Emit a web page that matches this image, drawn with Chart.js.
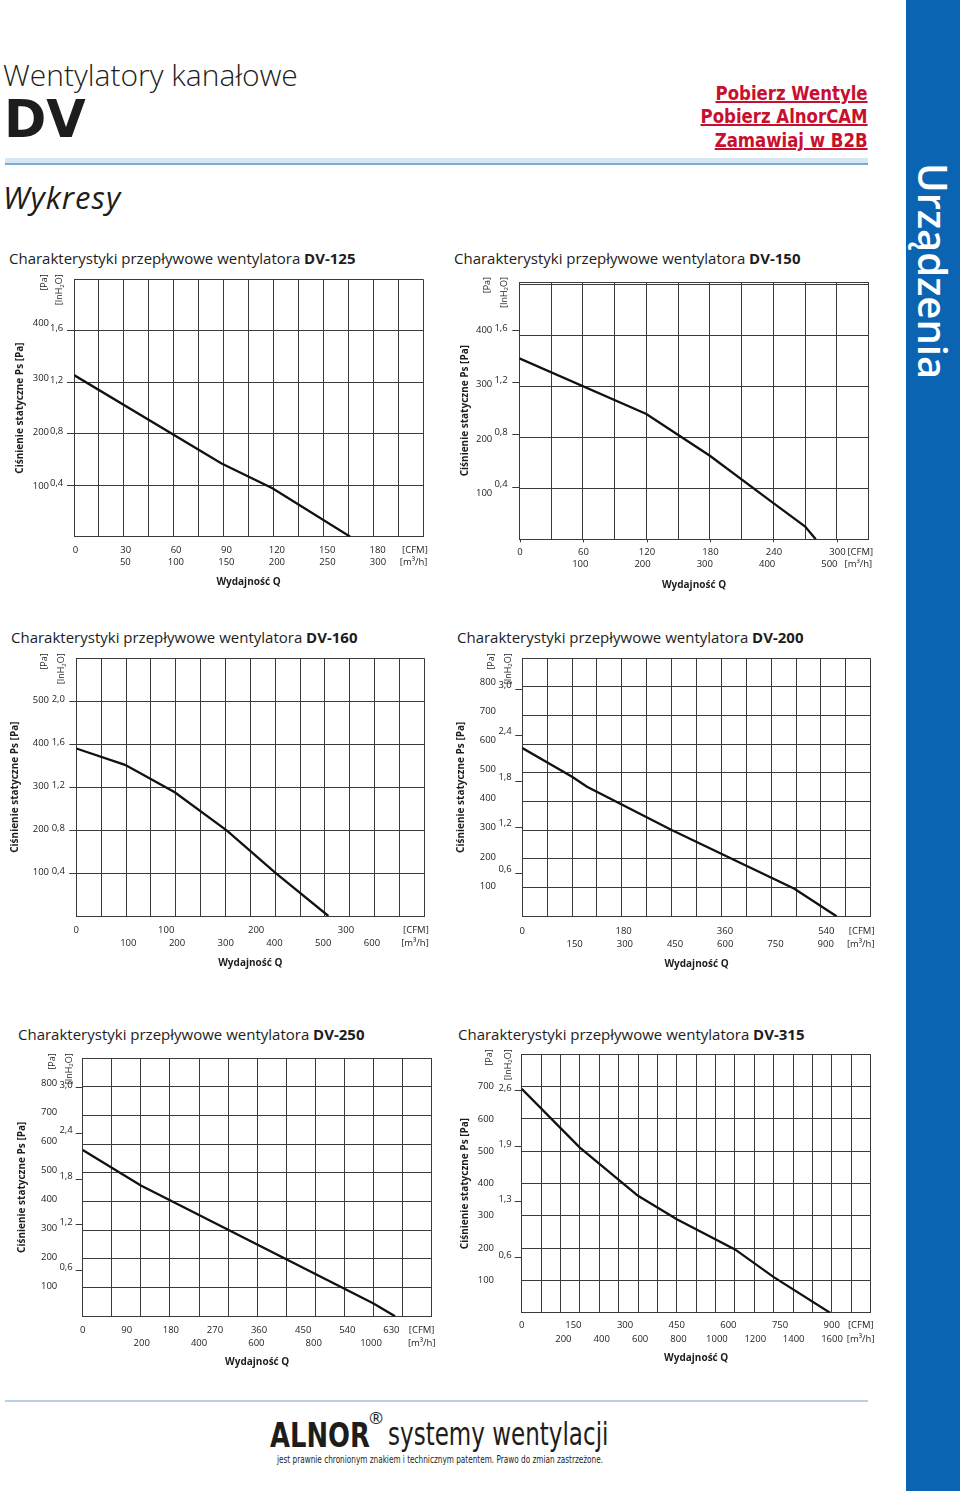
<!DOCTYPE html>
<html lang="pl">
<head>
<meta charset="utf-8">
<title>Wentylatory kanałowe DV – Wykresy</title>
<script src="https://cdn.jsdelivr.net/npm/chart.js@4.4.1/dist/chart.umd.min.js"></script>
<style>
  html, body { margin: 0; padding: 0; }
  body { width: 960px; height: 1491px; position: relative; overflow: hidden; background: #fff;
         font-family: 'Open Sans', 'Noto Sans', sans-serif; color: #1d1d1b; }
  .abs { position: absolute; white-space: nowrap; }
  canvas { position: absolute; }

  #side { left: 906px; top: 0; width: 54px; height: 1491px; background: #0a64b2; }
  #side span { position: absolute; left: 5px; top: 163px; writing-mode: vertical-rl; color: #fff;
               font-size: 40px; font-weight: 600; line-height: 44px; }

  #series { left: 3px; top: 57px; font-size: 30px; font-weight: 300; line-height: 36px; letter-spacing: 0; }
  #dv { left: 4px; top: 94px; font-family: 'DejaVu Sans', sans-serif; font-weight: 900; font-size: 51px; line-height: 51px; }
  #links { right: 92px; top: 82px; text-align: right; font-family: 'DejaVu Sans Condensed', 'DejaVu Sans', sans-serif;
           font-size: 20px; font-weight: 700; line-height: 23.3px; transform: scaleX(0.92); transform-origin: right top; }
  #links a { color: #c8102e; text-decoration: underline; display: block; }
  #band1 { left: 5px; width: 863px; top: 158px; height: 5px; background: #d5e6f4; border-bottom: 2px solid #7ea9d2; }
  #wyk { left: 3px; top: 179px; font-size: 31px; font-style: italic; line-height: 36px; letter-spacing: 1px; }

  .ttl { font-size: 15px; line-height: 18px; }
  .ttl b { font-weight: 700; }

  #band2 { left: 5px; width: 863px; top: 1400px; height: 2px; background: #b5d0e8; }
  #alnor { left: 270px; top: 1418px; font-family: 'DejaVu Sans', sans-serif; font-weight: 700; font-size: 34px;
           line-height: 34px; transform: scaleX(0.76); transform-origin: left top; }
  #reg { left: 369px; top: 1409px; font-size: 17px; line-height: 18px; }
  #syst { left: 388px; top: 1418px; font-family: 'DejaVu Sans Condensed', 'DejaVu Sans', sans-serif;
          font-size: 32px; line-height: 32px; transform: scaleX(0.8); transform-origin: left top; }
  #small { left: 277px; top: 1454px; font-family: 'DejaVu Sans Condensed', 'DejaVu Sans', sans-serif;
           font-size: 9.8px; line-height: 11px; transform: scaleX(0.83); transform-origin: left top; }
</style>
</head>
<body>

<div id="side" class="abs"><span>Urządzenia</span></div>

<div id="series" class="abs">Wentylatory kanałowe</div>
<div id="dv" class="abs">DV</div>
<div id="links" class="abs">
  <a>Pobierz Wentyle</a>
  <a>Pobierz AlnorCAM</a>
  <a>Zamawiaj w B2B</a>
</div>
<div id="band1" class="abs"></div>
<div id="wyk" class="abs">Wykresy</div>

<div class="abs ttl" style="left:9px;top:249px">Charakterystyki przepływowe wentylatora <b>DV-125</b></div>
<div class="abs ttl" style="left:454px;top:249px">Charakterystyki przepływowe wentylatora <b>DV-150</b></div>
<div class="abs ttl" style="left:11px;top:628px">Charakterystyki przepływowe wentylatora <b>DV-160</b></div>
<div class="abs ttl" style="left:457px;top:628px">Charakterystyki przepływowe wentylatora <b>DV-200</b></div>
<div class="abs ttl" style="left:18px;top:1025px">Charakterystyki przepływowe wentylatora <b>DV-250</b></div>
<div class="abs ttl" style="left:458px;top:1025px">Charakterystyki przepływowe wentylatora <b>DV-315</b></div>

<canvas id="c125"></canvas>
<canvas id="c150"></canvas>
<canvas id="c160"></canvas>
<canvas id="c200"></canvas>
<canvas id="c250"></canvas>
<canvas id="c315"></canvas>

<div id="band2" class="abs"></div>
<div id="alnor" class="abs">ALNOR</div>
<div id="reg" class="abs">®</div>
<div id="syst" class="abs">systemy wentylacji</div>
<div id="small" class="abs">jest prawnie chronionym znakiem i technicznym patentem. Prawo do zmian zastrzeżone.</div>

<script>
/* ── Curves: flow (m³/h, DV-150 in CFM) vs static pressure Ps (Pa) ── */
const dv125Flow = [0, 148, 199, 277];
const dv125Ps   = [314, 142, 94, 0];

const dv150Flow = [0, 120, 180, 240, 270, 280];          // CFM
const dv150Ps   = [355, 246, 164, 71, 25, 0];

const dv160Flow = [0, 98, 198, 303, 400, 507];
const dv160Ps   = [390, 352, 288, 199, 101, 0];

const dv200Flow = [0, 150, 195, 450, 820, 947];
const dv200Ps   = [587, 487, 452, 301, 96, 0];

const dv250Flow = [0, 200, 1000, 1074];
const dv250Ps   = [580, 456, 45, 0];

const dv315Flow = [0, 300, 600, 800, 1100, 1300, 1590];
const dv315Ps   = [693, 511, 362, 289, 196, 110, 0];

/* ── Tick labels ── */
const dv125Cfm = [0, 30, 60, 90, 120, 150, 180];
const dv125M3h = [50, 100, 150, 200, 250, 300];
const dv125Pa  = [100, 200, 300, 400];
const dv125In  = [0.4, 0.8, 1.2, 1.6];

const dv150Cfm = [0, 60, 120, 180, 240, 300];
const dv150M3h = [100, 200, 300, 400, 500];
const dv150Pa  = [100, 200, 300, 400];
const dv150In  = [0.4, 0.8, 1.2, 1.6];

const dv160Cfm = [0, 100, 200, 300];
const dv160M3h = [100, 200, 300, 400, 500, 600];
const dv160Pa  = [100, 200, 300, 400, 500];
const dv160In  = [0.4, 0.8, 1.2, 1.6, 2.0];

const dv200Cfm = [0, 180, 360, 540];
const dv200M3h = [150, 300, 450, 600, 750, 900];
const dv200Pa  = [100, 200, 300, 400, 500, 600, 700, 800];
const dv200In  = [0.6, 1.2, 1.8, 2.4, 3.0];

const dv250Cfm = [0, 90, 180, 270, 360, 450, 540, 630];
const dv250M3h = [200, 400, 600, 800, 1000];
const dv250Pa  = [100, 200, 300, 400, 500, 600, 700, 800];
const dv250In  = [0.6, 1.2, 1.8, 2.4, 3.0];

const dv315Cfm = [0, 150, 300, 450, 600, 750, 900];
const dv315M3h = [200, 400, 600, 800, 1000, 1200, 1400, 1600];
const dv315Pa  = [100, 200, 300, 400, 500, 600, 700];
const dv315In  = [0.645, 1.29, 1.935, 2.58];   // printed rounded: 0,6 1,3 1,9 2,6

/* ── Style ── */
const FONT = "'Open Sans', 'Noto Sans', sans-serif";
const INK  = '#1d1d1b';
const GRID = '#3a3a3a';
Chart.defaults.font.family = FONT;
Chart.defaults.color = INK;
Chart.defaults.animation = false;

const TICK_FONT = { size: 9.5 };
const TL = 7;            // inH2O tick mark length
const WP = 46;           // Pa label column width
const PAD_TOP = 20, PAD_RIGHT = 24;

const comma = v => v.toFixed(1).replace('.', ',');

function gridTicks(max, step) {
  const t = [];
  for (let v = 0; v < max - 1e-6; v += step) t.push({ value: v });
  t.push({ value: max });
  return t;
}

// rotated [Pa] / [InH2O] heads above the label columns
const unitHeads = {
  id: 'unitHeads',
  afterDraw(chart) {
    const { ctx, chartArea, scales } = chart;
    const yi = scales.yi, yp = scales.yp;
    const top = chartArea.top - 5;
    ctx.save();
    ctx.fillStyle = INK;
    ctx.textBaseline = 'middle';

    ctx.save();
    ctx.translate(yp.right - yp.options.ticks.padding - 4.5, top);
    ctx.rotate(-Math.PI / 2);
    ctx.font = '9px ' + FONT;
    ctx.textAlign = 'right';
    ctx.fillText('[Pa]', 0, 0);
    ctx.restore();

    ctx.save();
    ctx.translate(yi.right - TL - yi.options.ticks.padding - 3.5, top);
    ctx.rotate(-Math.PI / 2);
    ctx.textAlign = 'left';
    ctx.font = '9px ' + FONT;
    const wa = ctx.measureText('[InH').width, wc = ctx.measureText('O]').width;
    ctx.font = '6px ' + FONT;
    const wb = ctx.measureText('2').width;
    const x0 = -(wa + wb + wc);
    ctx.font = '9px ' + FONT;
    ctx.fillText('[InH', x0, 0);
    ctx.font = '6px ' + FONT;
    ctx.fillText('2', x0 + wa, 2.5);
    ctx.font = '9px ' + FONT;
    ctx.fillText('O]', x0 + wa + wb, 0);
    ctx.restore();

    ctx.restore();
  }
};

function fanChart(id, flow, ps, cfmTicks, m3hTicks, paTicks, inTicks, f) {
  const canvas = document.getElementById(id);
  const paAxisRight = f.paRight + 1;
  const wi = f.L - paAxisRight;
  const hc = f.cfmY - f.B + 6;                 // CFM row: labels must fit inside (they are clipped)
  const left = Math.floor(paAxisRight - WP);
  const top = Math.floor(f.T - PAD_TOP);
  const hm = f.xTitleY + 10 - (f.B + hc);
  const width = Math.ceil(f.R - left + PAD_RIGHT);
  const height = Math.ceil(f.B + hc + hm - top);
  canvas.width = width;
  canvas.height = height;
  canvas.style.left = left + 'px';
  canvas.style.top = top + 'px';

  const cfmTl = f.cfmTick || 0;
  const labelAxis = (range, ticks, unit, unitAt, h, pad) => ({
    type: 'linear', position: 'bottom', min: range[0], max: range[1], bounds: 'data',
    afterBuildTicks: s => { s.ticks = ticks.map(v => ({ value: v })).concat([{ value: unitAt, unit }]); },
    afterFit: s => { s.height = h; },
    ticks: { autoSkip: false, maxRotation: 0, minRotation: 0, padding: pad, font: TICK_FONT,
             callback: (v, i, t) => t[i].unit || String(v) },
    border: { display: false }
  });

  const xc = labelAxis(f.cfm, cfmTicks, '[CFM]', f.cfmUnit, hc, f.cfmY - f.B - cfmTl - 5.7);
  xc.grid = { display: cfmTl > 0, drawOnChartArea: false, drawTicks: cfmTl > 0, tickLength: cfmTl,
              color: c => (c.tick && c.tick.unit) ? 'rgba(0,0,0,0)' : GRID };
  const xm = labelAxis(f.m3h, m3hTicks, '[m³/h]', f.m3hUnit, hm, f.m3hY - f.B - hc - 5.7);
  xm.grid = { display: false, drawTicks: false };
  xm.title = { display: true, text: 'Wydajność Q', color: INK, font: { size: 10, weight: 'bold' },
               padding: { top: 0, bottom: 4 } };

  return new Chart(canvas, {
    type: 'line',
    data: {
      datasets: [{
        data: flow.map((x, i) => ({ x, y: ps[i] })),
        borderColor: '#111',
        borderWidth: 2.3,
        pointRadius: 0,
        tension: 0,
        xAxisID: 'x',
        yAxisID: 'y'
      }]
    },
    options: {
      responsive: false,
      devicePixelRatio: 1,
      layout: { padding: {
        left: paAxisRight - WP - left,
        top: f.T - top,
        right: width - (f.R - left),
        bottom: height - (f.B + hc + hm - top)
      } },
      plugins: { legend: { display: false }, tooltip: { enabled: false } },
      scales: {
        x: {
          type: 'linear', position: 'bottom', min: 0, max: f.xMax, bounds: 'data',
          afterBuildTicks: s => { s.ticks = gridTicks(f.xMax, f.xStep); },
          afterFit: s => { s.height = 0; },
          ticks: { display: false },
          grid: { color: GRID, lineWidth: 1, drawTicks: false },
          border: { display: true, color: GRID, width: 1 }
        },
        xc,
        xm,
        y: {
          type: 'linear', position: 'left', min: 0, max: f.yMax, bounds: 'data',
          afterBuildTicks: s => { s.ticks = gridTicks(f.yMax, f.yStep); },
          afterFit: s => { s.width = 0; },
          ticks: { display: false },
          grid: { color: GRID, lineWidth: 1, drawTicks: false },
          border: { display: true, color: GRID, width: 1 }
        },
        yi: {
          type: 'linear', position: 'left', min: f.inh[0], max: f.inh[1], bounds: 'data',
          afterBuildTicks: s => { s.ticks = inTicks.map(v => ({ value: v })); },
          afterFit: s => { s.width = wi; },
          ticks: { padding: f.L - TL - f.inRight, labelOffset: f.inOff, font: TICK_FONT, callback: v => comma(v) },
          grid: { drawOnChartArea: false, drawTicks: true, tickLength: TL, color: GRID, lineWidth: 1 },
          border: { display: false }
        },
        yp: {
          type: 'linear', position: 'left', min: f.pa[0], max: f.pa[1], bounds: 'data',
          afterBuildTicks: s => { s.ticks = paTicks.map(v => ({ value: v })); },
          afterFit: s => { s.width = WP; },
          ticks: { padding: 1, labelOffset: f.paOff || 0, font: TICK_FONT, callback: v => String(v) },
          grid: { display: false, drawTicks: false },
          border: { display: false },
          title: { display: true, text: 'Ciśnienie statyczne Ps [Pa]', color: INK,
                   font: { size: 10, weight: 'bold' },
                   padding: { top: f.yTitleX - (paAxisRight - WP) - 6, bottom: 0 } }
        }
      }
    },
    plugins: [unitHeads]
  });
}

/* ── Frames: page geometry of each plot and its label rows ── */
fanChart('c125', dv125Flow, dv125Ps, dv125Cfm, dv125M3h, dv125Pa, dv125In, {
  L: 74, T: 279.3, R: 423, B: 536.7, xMax: 350, xStep: 25, yMax: 500, yStep: 100,
  inRight: 63.3, paRight: 49, yTitleX: 20, cfmY: 550, m3hY: 562.3, xTitleY: 581.7,
  cfm: [-0.8, 207], cfmUnit: 202.2, m3h: [-0.8, 344.6], m3hUnit: 335.3,
  inh: [0, 2.0], inOff: -2, pa: [8, 481]
});

fanChart('c150', dv150Flow, dv150Ps, dv150Cfm, dv150M3h, dv150Pa, dv150In, {
  L: 519.3, T: 282, R: 868.7, B: 539.3, xMax: 330, xStep: 30, yMax: 505, yStep: 100,
  inRight: 507.7, paRight: 492.3, yTitleX: 465, cfmY: 552.7, m3hY: 564.3, xTitleY: 585, cfmTick: 3,
  cfm: [-0.7, 329.5], cfmUnit: 321.5, m3h: [2, 563.2], m3hUnit: 546.6,
  inh: [0, 1.97], inOff: -2.5, pa: [15.5, 488]
});

fanChart('c160', dv160Flow, dv160Ps, dv160Cfm, dv160M3h, dv160Pa, dv160In, {
  L: 76.3, T: 658.3, R: 424.3, B: 916, xMax: 700, xStep: 50, yMax: 600, yStep: 100,
  inRight: 65, paRight: 49, yTitleX: 15, cfmY: 930.7, m3hY: 943.3, xTitleY: 963.3,
  cfm: [0, 387.1], cfmUnit: 377.8, m3h: [-6.7, 707.4], m3hUnit: 688.2,
  inh: [0, 2.4], inOff: -1.5, pa: [0, 600], paOff: -1
});

fanChart('c200', dv200Flow, dv200Ps, dv200Cfm, dv200M3h, dv200Pa, dv200In, {
  L: 522.3, T: 658.3, R: 870.7, B: 916.3, xMax: 1050, xStep: 75, yMax: 900, yStep: 100,
  inRight: 511.7, paRight: 496, yTitleX: 460.7, cfmY: 931.7, m3hY: 944.3, xTitleY: 964,
  cfm: [0, 618.8], cfmUnit: 602.8, m3h: [-6.4, 1034.5], m3hUnit: 1004.6,
  inh: [0.04, 3.41], inOff: -4, pa: [-4, 881]
});

fanChart('c250', dv250Flow, dv250Ps, dv250Cfm, dv250M3h, dv250Pa, dv250In, {
  L: 82.7, T: 1058.3, R: 431.7, B: 1316.3, xMax: 1200, xStep: 100, yMax: 900, yStep: 100,
  inRight: 72.7, paRight: 57.3, yTitleX: 21.7, cfmY: 1330.7, m3hY: 1343.3, xTitleY: 1361.7,
  cfm: [0, 712.3], cfmUnit: 691.8, m3h: [-5.8, 1211.6], m3hUnit: 1176.7,
  inh: [0, 3.39], inOff: -3, pa: [-2, 886]
});

fanChart('c315', dv315Flow, dv315Ps, dv315Cfm, dv315M3h, dv315Pa, dv315In, {
  L: 521.7, T: 1054.3, R: 870.7, B: 1312.7, xMax: 1800, xStep: 100, yMax: 800, yStep: 100,
  inRight: 511.7, paRight: 494, yTitleX: 465, cfmY: 1325, m3hY: 1339.3, xTitleY: 1358.3,
  cfm: [0, 1013.2], cfmUnit: 984.2, m3h: [-17.2, 1801.6], m3hUnit: 1749.4,
  inh: [0, 3.0], inOff: -2, pa: [-1, 800]
});
</script>
</body>
</html>
